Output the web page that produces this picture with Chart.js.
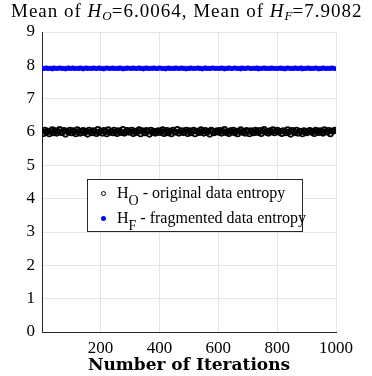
<!DOCTYPE html>
<html>
<head>
<meta charset="utf-8">
<script src="https://cdn.jsdelivr.net/npm/chart.js@4/dist/chart.umd.min.js"></script>
<style>
  html, body { margin: 0; padding: 0; background: #fff; }
  #wrap { position: relative; width: 372px; height: 376px; font-family: "Liberation Serif", serif; color: #000; }
  #chart { position: absolute; left: 0; top: 0; }
  #title { position: absolute; left: 11px; top: 0px; font-size: 19px; letter-spacing: 1px; white-space: nowrap; }
  #title sub { font-size: 13px; vertical-align: -3px; line-height: 0; letter-spacing: 0; }
  #legend { position: absolute; left: 87px; top: 179px; width: 216px; height: 53px; box-sizing: border-box;
            border: 1px solid #262626; background: #fff; font-size: 16px; }
  .row { position: absolute; left: 0; height: 20px; line-height: 20px; white-space: nowrap; }
  .row sub { font-size: 14px; vertical-align: -7px; line-height: 0; }
  .mk { position: absolute; left: 13px; top: 8px; width: 5px; height: 5px; border-radius: 50%; box-sizing: border-box; }
  .txt { position: absolute; left: 29px; top: 0; }
</style>
</head>
<body>
<div id="wrap">
  <canvas id="chart" width="372" height="376"></canvas>
  <div id="title"></div>
  <div id="legend">
    <div class="row" style="top:3px"><span class="mk" style="border:1px solid #000"></span><span class="txt" id="lab0"></span></div>
    <div class="row" style="top:28px"><span class="mk" style="background:#0000ff"></span><span class="txt" id="lab1"></span></div>
  </div>
</div>
<script>
// iteration number of each plotted sample (every 5th run)
const iterations = Array.from({ length: 200 }, (_, i) => 1 + i * 5);

// H_O - original data entropy
const hOriginal = [
  6.02, 5.95, 6.06, 5.99, 6.03, 5.94, 6.01, 6.07, 5.97, 6.04, 5.96, 6.02, 6.08, 5.98, 6.00, 6.05, 5.93, 6.03, 5.99, 6.06,
  5.97, 6.04, 6.00, 5.94, 6.07, 6.01, 5.96, 6.03, 6.05, 5.98, 6.02, 5.93, 6.06, 6.00, 5.97, 6.04, 6.01, 5.95, 6.08, 5.99,
  6.03, 5.96, 6.05, 6.01, 5.94, 6.07, 5.99, 6.02, 5.97, 6.06, 6.00, 5.95, 6.04, 6.02, 5.98, 6.08, 5.96, 6.01, 6.05, 5.99,
  6.00, 6.06, 5.95, 6.03, 5.98, 6.01, 6.07, 5.94, 6.04, 6.00, 5.97, 6.05, 6.02, 5.93, 6.06, 5.99, 6.03, 5.96, 6.01, 6.04,
  5.98, 6.02, 6.07, 5.95, 6.00, 6.05, 5.97, 6.03, 5.94, 6.06, 6.01, 5.99, 6.08, 5.96, 6.02, 6.04, 5.98, 6.00, 6.06, 5.95,
  6.04, 5.97, 6.01, 6.06, 5.94, 6.03, 6.00, 5.98, 6.07, 6.02, 5.96, 6.05, 5.99, 6.01, 5.93, 6.06, 6.03, 5.97, 6.00, 6.04,
  5.99, 6.05, 5.96, 6.02, 6.08, 5.98, 6.01, 5.95, 6.04, 6.00, 6.06, 5.97, 6.03, 5.94, 6.02, 6.07, 5.99, 6.01, 5.96, 6.05,
  6.01, 5.94, 6.04, 6.00, 5.97, 6.06, 6.02, 5.98, 6.05, 5.95, 6.03, 6.08, 5.99, 6.01, 5.96, 6.04, 6.00, 6.07, 5.97, 6.02,
  6.06, 5.99, 6.02, 5.95, 6.04, 6.01, 5.97, 6.07, 6.00, 5.93, 6.05, 6.02, 5.98, 6.06, 5.96, 6.03, 6.01, 5.94, 6.04, 6.00,
  5.97, 6.03, 6.05, 5.99, 6.01, 5.95, 6.06, 6.02, 5.98, 6.04, 6.00, 5.96, 6.07, 6.01, 5.99, 6.05, 5.94, 6.03, 6.02, 6.06
];

// H_F - fragmented data entropy
const hFragmented = [
  7.91, 7.90, 7.91, 7.92, 7.90, 7.91, 7.91, 7.89, 7.92, 7.91, 7.90, 7.91, 7.92, 7.91, 7.90, 7.91, 7.89, 7.91, 7.92, 7.90,
  7.91, 7.92, 7.90, 7.91, 7.91, 7.90, 7.92, 7.91, 7.89, 7.91, 7.92, 7.90, 7.91, 7.91, 7.90, 7.92, 7.91, 7.90, 7.91, 7.92,
  7.90, 7.91, 7.89, 7.91, 7.92, 7.91, 7.90, 7.91, 7.92, 7.90, 7.91, 7.91, 7.90, 7.92, 7.91, 7.89, 7.91, 7.90, 7.92, 7.91,
  7.91, 7.90, 7.92, 7.91, 7.90, 7.91, 7.92, 7.90, 7.91, 7.89, 7.91, 7.92, 7.90, 7.91, 7.91, 7.90, 7.92, 7.91, 7.90, 7.91,
  7.92, 7.91, 7.90, 7.91, 7.89, 7.91, 7.92, 7.90, 7.91, 7.91, 7.90, 7.92, 7.91, 7.90, 7.91, 7.92, 7.90, 7.91, 7.89, 7.91,
  7.90, 7.92, 7.91, 7.90, 7.91, 7.91, 7.92, 7.90, 7.91, 7.89, 7.91, 7.92, 7.90, 7.91, 7.90, 7.91, 7.92, 7.91, 7.90, 7.91,
  7.91, 7.90, 7.92, 7.91, 7.89, 7.91, 7.90, 7.92, 7.91, 7.90, 7.91, 7.92, 7.91, 7.90, 7.91, 7.89, 7.92, 7.91, 7.90, 7.91,
  7.92, 7.91, 7.90, 7.91, 7.91, 7.90, 7.92, 7.89, 7.91, 7.90, 7.91, 7.92, 7.90, 7.91, 7.91, 7.90, 7.92, 7.91, 7.90, 7.91,
  7.90, 7.91, 7.92, 7.90, 7.91, 7.89, 7.91, 7.92, 7.91, 7.90, 7.91, 7.90, 7.92, 7.91, 7.90, 7.91, 7.92, 7.89, 7.91, 7.90,
  7.91, 7.92, 7.90, 7.91, 7.90, 7.91, 7.92, 7.91, 7.89, 7.91, 7.90, 7.92, 7.91, 7.90, 7.91, 7.91, 7.90, 7.92, 7.91, 7.90
];

const meanO = "6.0064";
const meanF = "7.9082";
const xTicks = [200, 400, 600, 800, 1000];
const yTicks = [0, 1, 2, 3, 4, 5, 6, 7, 8, 9];
const seriesLabels = ["original data entropy", "fragmented data entropy"];

// title and legend need subscripts, so they are html text
document.getElementById("title").innerHTML =
  `Mean of <i>H</i><sub><i>O</i></sub>=${meanO}, Mean of <i>H</i><sub><i>F</i></sub>=${meanF}`;
document.getElementById("lab0").innerHTML = `H<sub>O</sub> - ${seriesLabels[0]}`;
document.getElementById("lab1").innerHTML = `H<sub>F</sub> - ${seriesLabels[1]}`;

const font = "Liberation Serif";
const axisColor = "#262626";
const gridColor = "#e5e5e5";

new Chart(document.getElementById("chart").getContext("2d"), {
  type: "scatter",
  data: {
    datasets: [
      {
        label: "H_O",
        data: iterations.map((x, i) => ({ x, y: hOriginal[i] })),
        pointStyle: "circle",
        pointRadius: 2.4,
        borderWidth: 1.8,
        borderColor: "#000",
        backgroundColor: "rgba(0,0,0,0)"
      },
      {
        label: "H_F",
        data: iterations.map((x, i) => ({ x, y: hFragmented[i] })),
        pointStyle: "circle",
        pointRadius: 2.4,
        borderWidth: 0,
        backgroundColor: "#0000ff"
      }
    ]
  },
  options: {
    responsive: false,
    animation: false,
    layout: { padding: { left: 0, right: 36, top: 32, bottom: 0 } },
    plugins: { legend: { display: false }, tooltip: { enabled: false } },
    scales: {
      x: {
        type: "linear",
        min: 1,
        max: 1000,
        afterBuildTicks: s => { s.ticks = xTicks.map(v => ({ value: v })); },
        afterFit: s => { s.height = 44; },
        grid: { color: gridColor, drawTicks: false },
        border: { color: axisColor, width: 1 },
        ticks: { color: "#000", padding: 6, callback: v => String(v), font: { family: font, size: 17 } },
        title: {
          display: true,
          text: "Number of Iterations",
          color: "#000",
          padding: { top: 0, bottom: 0 },
          font: { family: "DejaVu Serif", size: 17, weight: "bold" }
        }
      },
      y: {
        min: 0,
        max: 9,
        afterBuildTicks: s => { s.ticks = yTicks.map(v => ({ value: v })); },
        afterFit: s => { s.width = 42; },
        grid: { color: gridColor, drawTicks: false },
        border: { color: axisColor, width: 1 },
        ticks: { color: "#000", padding: 7, font: { family: font, size: 17 } }
      }
    }
  }
});
</script>
</body>
</html>
